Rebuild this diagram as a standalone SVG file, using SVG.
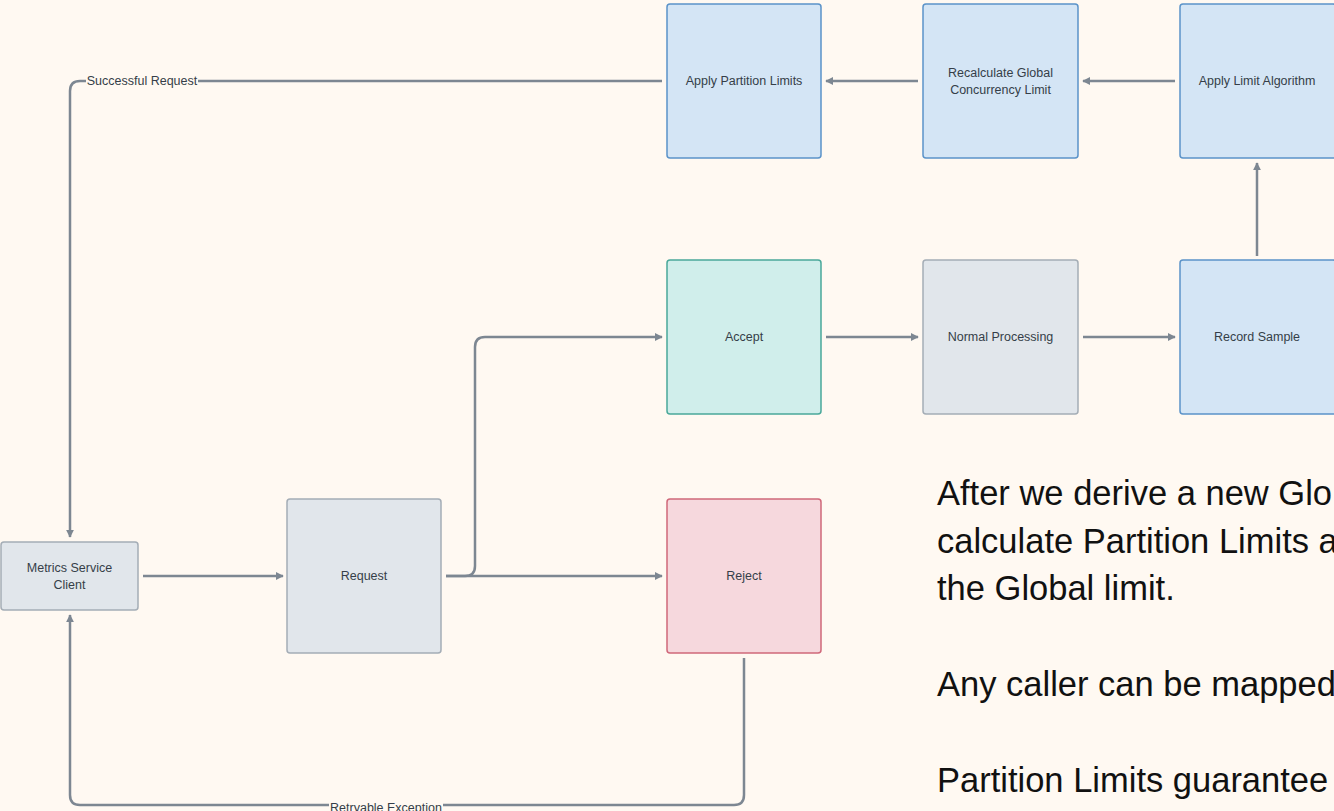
<svg xmlns="http://www.w3.org/2000/svg" width="1334" height="811" viewBox="0 0 1334 811">
  <defs>
    <marker id="arrow" viewBox="0 0 10 10" refX="9" refY="5" markerWidth="8" markerHeight="8" markerUnits="userSpaceOnUse" orient="auto">
      <path d="M0,0 L10,5 L0,10 Z" fill="#7d8792"/>
    </marker>
    <style>
      .node rect { stroke-width: 1.5; }
      .blue rect { fill: #d4e5f5; stroke: #5b93c9; }
      .teal rect { fill: #d0eeeb; stroke: #4aa89a; }
      .gray rect { fill: #e1e6eb; stroke: #a4adb6; }
      .red rect { fill: #f6d8dd; stroke: #d0687a; }
      .node text { font-family: "Liberation Sans", Arial, sans-serif; font-size: 12.5px; fill: #353e48; text-anchor: middle; dominant-baseline: central; }
      .edge { fill: none; stroke: #7d8792; stroke-width: 2.5; }
      .elabel { font-family: "Liberation Sans", Arial, sans-serif; font-size: 12.5px; fill: #353e48; text-anchor: middle; dominant-baseline: central; }
      .note { font-family: "Liberation Sans", Helvetica, Arial, sans-serif; font-size: 34.5px; fill: #111111; }
    </style>
  </defs>

  <rect width="1334" height="811" fill="#fff9f2"/>

  <!-- connectors -->
  <g id="connectors">
    <line class="edge" x1="143" y1="576" x2="283" y2="576" marker-end="url(#arrow)"/>
    <line class="edge" x1="446" y1="576" x2="662" y2="576" marker-end="url(#arrow)"/>
    <path class="edge" d="M446,576 L465,576 Q475,576 475,566 L475,347 Q475,337 485,337 L662,337" marker-end="url(#arrow)"/>
    <line class="edge" x1="826" y1="337" x2="918" y2="337" marker-end="url(#arrow)"/>
    <line class="edge" x1="1083" y1="337" x2="1175" y2="337" marker-end="url(#arrow)"/>
    <line class="edge" x1="1257" y1="256" x2="1257" y2="163" marker-end="url(#arrow)"/>
    <line class="edge" x1="1175" y1="81" x2="1083" y2="81" marker-end="url(#arrow)"/>
    <line class="edge" x1="918" y1="81" x2="826" y2="81" marker-end="url(#arrow)"/>
    <path class="edge" d="M662,81 L80,81 Q70,81 70,91 L70,537" marker-end="url(#arrow)"/>
    <path class="edge" d="M744,658 L744,795 Q744,805 734,805 L80,805 Q70,805 70,795 L70,615" marker-end="url(#arrow)"/>
    <rect x="86" y="74" width="112" height="14" fill="#fff9f2"/>
    <text class="elabel" x="142" y="81">Successful Request</text>
    <rect x="329" y="798" width="114" height="14" fill="#fff9f2"/>
    <text class="elabel" x="386" y="808">Retryable Exception</text>
  </g>

  <g id="metrics-client" class="node gray">
    <rect x="1" y="542" width="137" height="68" rx="3"/>
    <text x="69.5" y="568">Metrics Service</text>
    <text x="69.5" y="585">Client</text>
  </g>
  <g id="request" class="node gray">
    <rect x="287" y="499" width="154" height="154" rx="3"/>
    <text x="364" y="576">Request</text>
  </g>
  <g id="accept" class="node teal">
    <rect x="667" y="260" width="154" height="154" rx="3"/>
    <text x="744" y="337">Accept</text>
  </g>
  <g id="reject" class="node red">
    <rect x="667" y="499" width="154" height="154" rx="3"/>
    <text x="744" y="576">Reject</text>
  </g>
  <g id="normal-processing" class="node gray">
    <rect x="923" y="260" width="155" height="154" rx="3"/>
    <text x="1000.5" y="337">Normal Processing</text>
  </g>
  <g id="record-sample" class="node blue">
    <rect x="1180" y="260" width="156" height="154" rx="3"/>
    <text x="1257" y="337">Record Sample</text>
  </g>
  <g id="apply-limit-algorithm" class="node blue">
    <rect x="1180" y="4" width="156" height="154" rx="3"/>
    <text x="1257" y="81">Apply Limit Algorithm</text>
  </g>
  <g id="recalculate-global" class="node blue">
    <rect x="923" y="4" width="155" height="154" rx="3"/>
    <text x="1000.5" y="73">Recalculate Global</text>
    <text x="1000.5" y="90">Concurrency Limit</text>
  </g>
  <g id="apply-partition-limits" class="node blue">
    <rect x="667" y="4" width="154" height="154" rx="3"/>
    <text x="744" y="81">Apply Partition Limits</text>
  </g>

  <g id="notes">
    <text class="note" x="937" y="505">After we derive a new Glo</text>
    <text class="note" x="937" y="553">calculate Partition Limits a</text>
    <text class="note" x="937" y="600">the Global limit.</text>
    <text class="note" x="937" y="696">Any caller can be mapped</text>
    <text class="note" x="937" y="792">Partition Limits guarantee</text>
  </g>
</svg>
